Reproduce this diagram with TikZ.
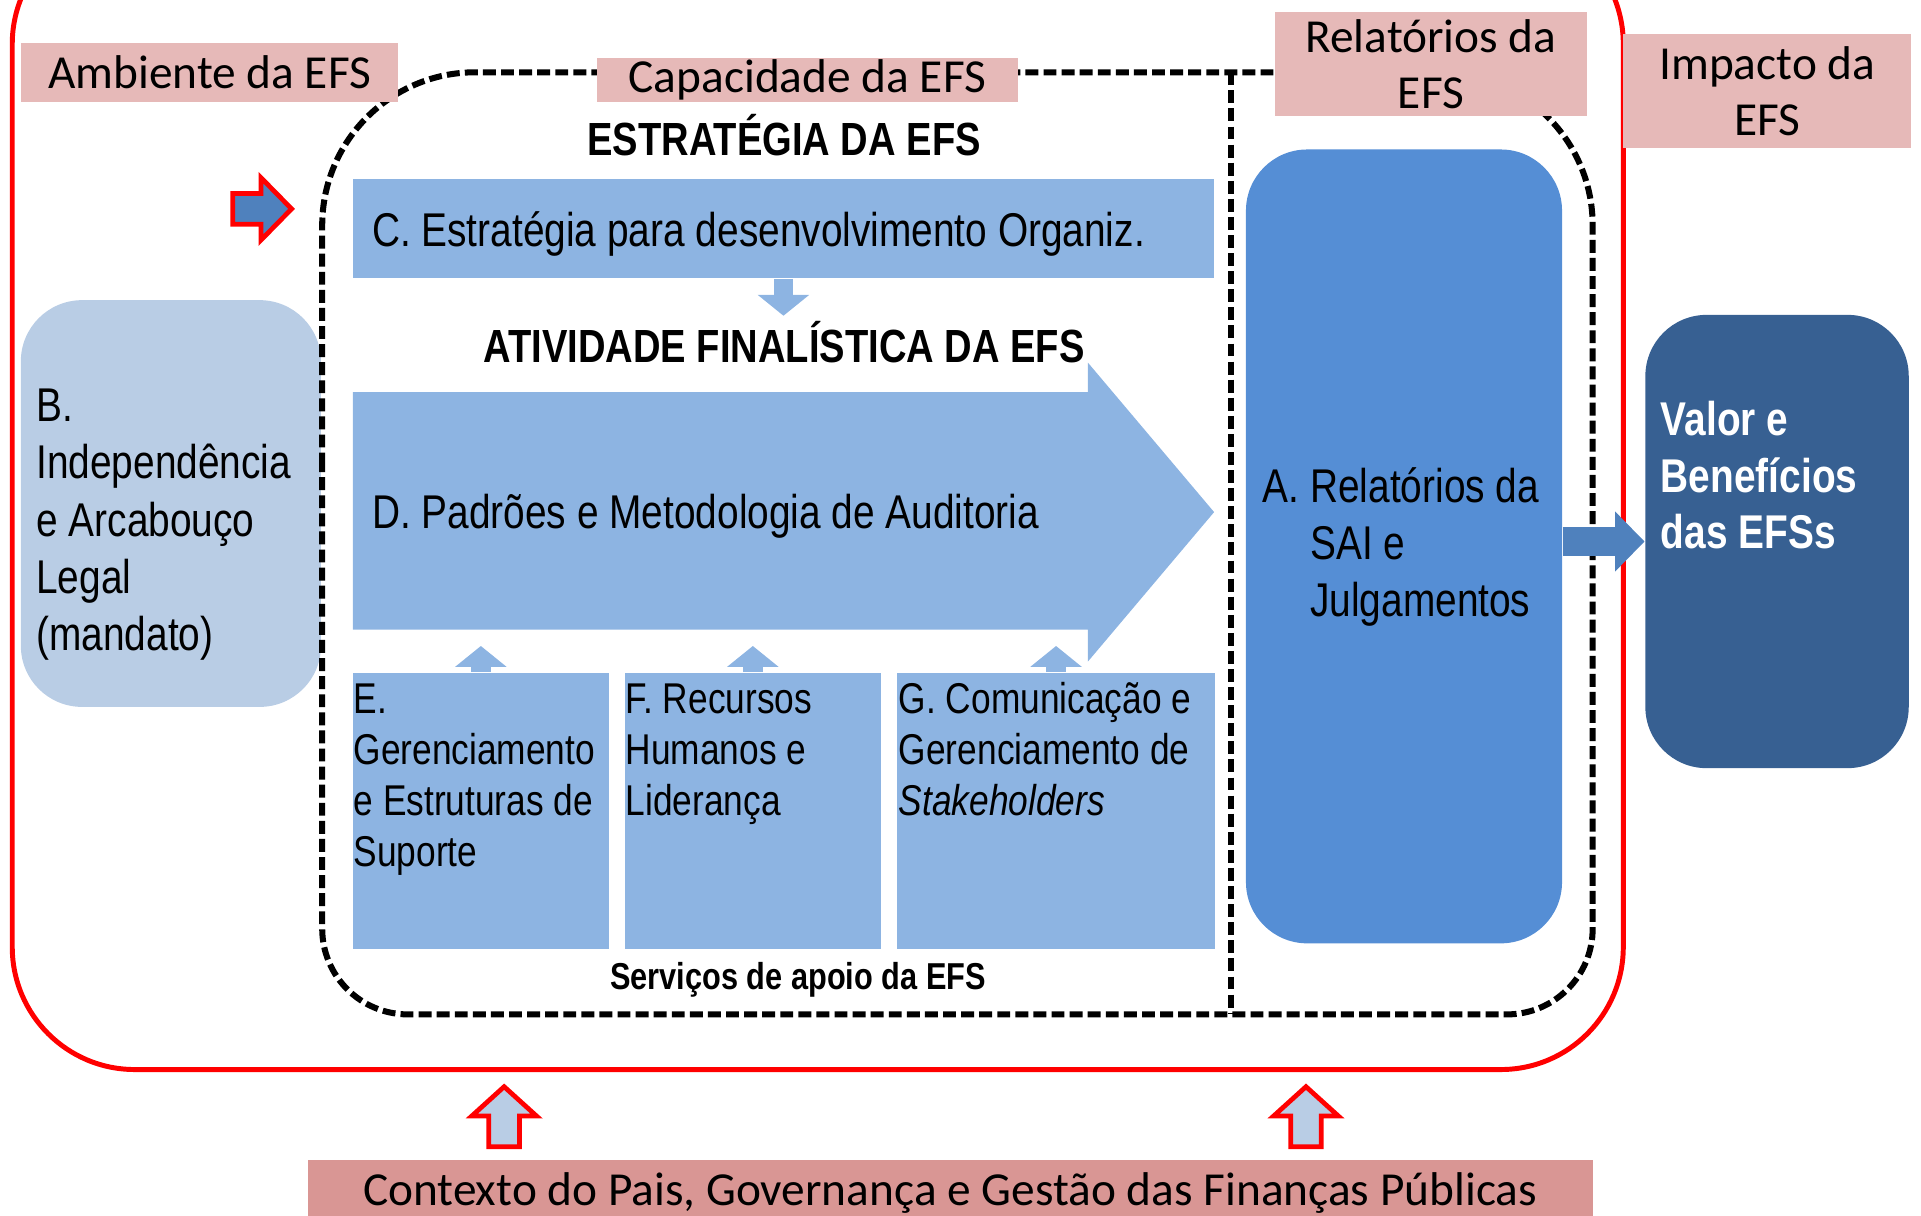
\documentclass[tikz,border=0pt]{standalone}
\usepackage{fontspec}
\setmainfont{Carlito}
\newfontfamily\narrowfont[FakeStretch=0.82]{Liberation Sans}
\usetikzlibrary{arrows.meta, positioning}
\definecolor{labelpink}{HTML}{E6B9B8}
\definecolor{ctxpink}{HTML}{D99694}
\definecolor{lightblue}{HTML}{8DB4E2}
\definecolor{paleblue}{HTML}{B9CDE5}
\definecolor{midblue}{HTML}{558ED5}
\definecolor{darkblue}{HTML}{376092}
\definecolor{arrowblue}{HTML}{4F81BD}
\tikzset{
  lbl/.style = {fill=labelpink, inner sep=0pt, align=center, font=\fontsize{11}{13.1}\selectfont},
  bluebox/.style = {fill=lightblue, inner sep=0pt},
  roundbox/.style = {rounded corners=5mm, inner sep=0pt},
  boxtxt/.style = {anchor=base west, inner sep=0pt, align=left, font=\narrowfont\fontsize{10}{11.85}\selectfont},
  bigtxt/.style = {anchor=base west, inner sep=0pt, align=left, font=\narrowfont\fontsize{11}{13.2}\selectfont},
  head/.style = {anchor=base, inner sep=0pt, font=\narrowfont\bfseries\fontsize{10.8}{13}\selectfont},
  frame/.style = {line width=1.4pt, dash pattern=on 3pt off 1.2pt},
  blockarr/.style = {draw=lightblue, line width=1.6mm, -{Triangle[width=4.2mm, length=1.7mm, line width=0pt]}},
  redarrow/.style = {draw=red, line width=1.1pt, line join=miter}
}
\begin{document}
\begin{tikzpicture}[x=0.1mm, y=-0.1mm]
\useasboundingbox (0,0) rectangle (1568,992);

% Ambiente da EFS (outer frame)
\draw[red, line width=1.15pt, rounded corners=10mm] (10,-64) rectangle (1325,873);

% B. mandate box (multi-line texts sit on their last baseline)
\node[roundbox, fill=paleblue, minimum width=2.45cm, minimum height=3.32cm] (bbox) at (139.5,411) {};
\node[bigtxt, font=\narrowfont\fontsize{11}{13.3}\selectfont] (btxt) at (29,531) {B.\\Independência\\e Arcabouço\\Legal\\(mandato)};

% Capacidade da EFS (dashed frame)
\draw[frame] (263,450) [rounded corners=12.5mm] -- (263,59) -- (1300,59) -- (1300,450)
  [rounded corners=7mm] -- (1300,828) -- (263,828) -- cycle;
\draw[frame] (1005,59) -- (1005,828);

% Strategy
\node[head] (estrat) at (640,127) {ESTRATÉGIA DA EFS};
\node[bluebox, minimum width=7.03cm, minimum height=0.81cm] (cbox) at (639.5,186.5) {};
\node[bigtxt] (ctxt) at (303,201.5) {C. Estratégia para desenvolvimento Organiz.};

% Core audit activity
\node[head] (ativ) at (640,296) {ATIVIDADE FINALÍSTICA DA EFS};
\fill[lightblue] (288,320) -- (888,320) -- (888,296) -- (991,418) -- (888,540) -- (888,514) -- (288,514) -- cycle;
\node[bigtxt] (dtxt) at (303,431) {D. Padrões e Metodologia de Auditoria};

% Support services
\node[bluebox, minimum width=2.09cm, minimum height=2.256cm] (ebox) at (392.5,661.8) {};
\node[bluebox, minimum width=2.09cm, minimum height=2.256cm] (fbox) at (614.5,661.8) {};
\node[bluebox, minimum width=2.59cm, minimum height=2.256cm] (gbox) at (862,661.8) {};
\node[boxtxt] (etxt) at (288,707) {E.\\Gerenciamento\\e Estruturas de\\Suporte};
\node[boxtxt] (ftxt) at (510,665.5) {F. Recursos\\Humanos e\\Liderança};
\node[boxtxt] (gtxt) at (733,665.5) {G. Comunicação e\\Gerenciamento de\\\textit{Stakeholders}};
\node[head, font=\narrowfont\bfseries\fontsize{8.7}{10}\selectfont] (serv) at (651.5,808) {Serviços de apoio da EFS};

% Relatórios da EFS
\node[roundbox, fill=midblue, minimum width=2.58cm, minimum height=6.48cm] (abox) at (1146,446) {};
\node[bigtxt] (atxt) at (1030,503) {A. Relatórios da\\\hphantom{A.\ }SAI e\\\hphantom{A.\ }Julgamentos};

% Impacto da EFS
\node[roundbox, fill=darkblue, minimum width=2.15cm, minimum height=3.70cm] (valbox) at (1450.5,442) {};
\node[bigtxt, text=white, font=\narrowfont\bfseries\fontsize{11}{13.2}\selectfont] (valtxt) at (1355,448) {Valor e\\Benefícios\\das EFSs};

% Arrows
\draw[blockarr] (cbox.south) -- ++(0,30);
\draw[blockarr] (ebox.north) -- ++(0,-21);
\draw[blockarr] (fbox.north) -- ++(0,-21);
\draw[blockarr] (gbox.north) -- ++(0,-21);
\draw[blockarr, draw=arrowblue, line width=2.4mm, -{Triangle[width=4.9mm, length=2.4mm, line width=0pt]}] (abox.east |- valbox.west) -- (valbox.west);

% red-outlined arrows
\draw[redarrow, fill=arrowblue] (190,158) -- (213,158) -- (213,145) -- (238,170.5) -- (213,196) -- (213,183) -- (190,183) -- cycle;
\draw[redarrow, fill=paleblue] (411.5,887) -- (438,911) -- (424,911) -- (424,936) -- (399,936) -- (399,911) -- (385,911) -- cycle;
\draw[redarrow, fill=paleblue] (1066,887) -- (1092.5,911) -- (1078.5,911) -- (1078.5,936) -- (1053.5,936) -- (1053.5,911) -- (1039.5,911) -- cycle;

% Labels
\node[lbl, minimum width=3.08cm, minimum height=0.48cm] (ambiente) at (171,59) {Ambiente da EFS};
\node[lbl, minimum width=3.44cm, minimum height=0.36cm] (capacidade) at (659,65) {Capacidade da EFS};
\node[lbl, minimum width=2.54cm, minimum height=0.85cm] (relatorios) at (1168,52.5) {Relatórios da\\EFS};
\node[lbl, minimum width=2.35cm, minimum height=0.93cm] (impacto) at (1442.5,74.5) {Impacto da\\EFS};
\node[lbl, fill=ctxpink, minimum width=10.49cm, minimum height=0.54cm] (contexto) at (775.5,974) {Contexto do Pais, Governança e Gestão das Finanças Públicas};
\end{tikzpicture}
\end{document}
